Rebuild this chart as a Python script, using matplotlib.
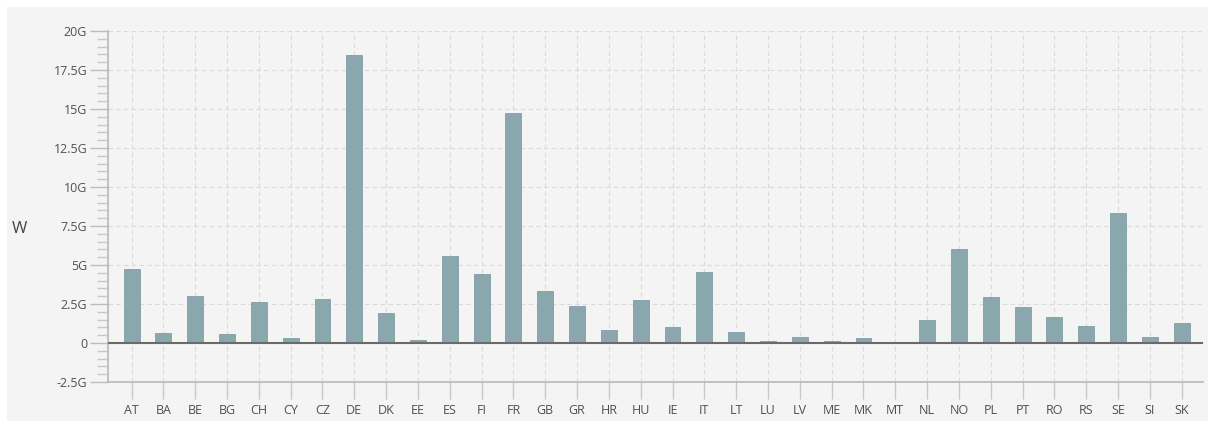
import matplotlib
matplotlib.use("Agg")
import matplotlib.pyplot as plt
from matplotlib.ticker import FuncFormatter, MultipleLocator
from matplotlib.patches import Rectangle

countries = ["AT", "BA", "BE", "BG", "CH", "CY", "CZ", "DE", "DK", "EE", "ES", "FI",
             "FR", "GB", "GR", "HR", "HU", "IE", "IT", "LT", "LU", "LV", "ME", "MK",
             "MT", "NL", "NO", "PL", "PT", "RO", "RS", "SE", "SI", "SK"]
values_g = [4.72, 0.67, 3.01, 0.60, 2.61, 0.32, 2.82, 18.44, 1.92, 0.22, 5.58, 4.42,
            14.72, 3.31, 2.40, 0.83, 2.76, 1.00, 4.53, 0.69, 0.10, 0.41, 0.15, 0.35,
            0.0, 1.45, 6.00, 2.97, 2.29, 1.65, 1.11, 8.33, 0.41, 1.31]
values = [v * 1e9 for v in values_g]

plt.rcParams['font.family'] = ['Open Sans', 'DejaVu Sans']

W, H = 1213, 425
fig = plt.figure(figsize=(W / 100, H / 100), dpi=100)
fig.patch.set_facecolor('white')
fig.patches.append(Rectangle((7 / W, 4 / H), (1208 - 7) / W, (418 - 4) / H,
                             transform=fig.transFigure, facecolor='#f4f4f4',
                             edgecolor='none', zorder=-10))

left, right, top, bottom = 108, 1203, 31, 382
ax = fig.add_axes([left / W, 1 - bottom / H, (right - left) / W, (bottom - top) / H])
ax.set_facecolor('none')

x = list(range(len(countries)))
ax.bar(x, values, width=0.5, color='#89a7ad', edgecolor='#819fa5', linewidth=0.6, zorder=3)
ax.axhline(0, color='#6a6a6a', lw=1.5, zorder=4)

ax.set_xlim(-0.74, len(countries) - 1 + 0.67)
ax.set_ylim(-2.5e9, 20e9)
ax.yaxis.set_major_locator(MultipleLocator(2.5e9))
ax.yaxis.set_minor_locator(MultipleLocator(0.5e9))

def fmt(v, pos):
    g = v / 1e9
    if abs(g) < 1e-9:
        return "0"
    s = ("%.1f" % g).rstrip('0').rstrip('.')
    return s + "G"

ax.yaxis.set_major_formatter(FuncFormatter(fmt))
ax.set_xticks(x)
ax.set_xticklabels(countries)

for s in ['top', 'right']:
    ax.spines[s].set_visible(False)
for s in ['left', 'bottom']:
    ax.spines[s].set_color('#b8b8b8')
    ax.spines[s].set_linewidth(1.2)

ax.tick_params(axis='y', which='major', length=13, width=1, color='#bdbdbd',
               labelsize=9, labelcolor='#505050', pad=2)
ax.tick_params(axis='y', which='minor', length=8, width=1, color='#c8c8c8')
ax.tick_params(axis='x', which='major', length=12, width=1, color='#c8c8c8',
               labelsize=9, labelcolor='#505050', pad=4)

ax.grid(True, which='major', axis='both', color='#dadada', lw=0.8,
        linestyle=(0, (4, 3)), zorder=1)
ax.set_axisbelow(True)

fig.text(19 / W, 1 - 229 / H, "W", ha='center', va='center', fontsize=12, color='#444444')

fig.savefig("out.png", dpi=100, facecolor=fig.get_facecolor())
